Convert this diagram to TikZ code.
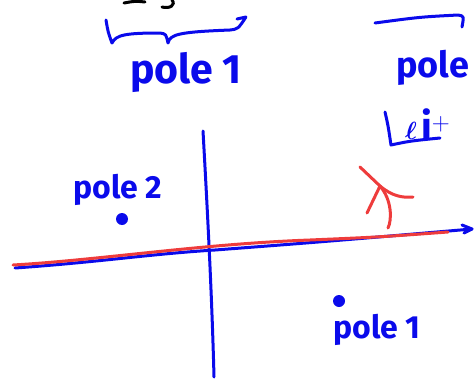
\documentclass[tikz,border=0pt]{standalone}
\usepackage{amsmath}
\usepackage{bm}
\usepackage{fontspec}
\setmainfont{Fira Sans}
\usepackage{tikz}
\definecolor{pen}{RGB}{10,10,235}
\definecolor{redpen}{RGB}{238,60,60}

\begin{document}
\begin{tikzpicture}[
        x=1pt, y=-1pt,
        ink/.style={pen, line width=3pt, line cap=round, line join=round},
        redink/.style={redpen, line width=3pt, line cap=round, line join=round},
        scrawl/.style={black, line width=3pt, line cap=round},
        big/.style={pen, inner sep=0pt, font=\fontsize{41}{41}\selectfont\bfseries},
        small/.style={pen, inner sep=0pt, font=\fontsize{32}{32}\selectfont\bfseries},
        dot/.style={circle, fill=pen, inner sep=0pt, minimum size=12pt}
    ]
        \useasboundingbox (0,0) rectangle (474,380);

        % cut-off writing at the top
        \draw[scrawl] (124,3) .. controls (135,1) .. (145,2);
        \draw[scrawl] (172,0) .. controls (176,5) and (170,9) .. (162,7);

        % brace over the upper pole 1
        \draw[ink] (106,20) .. controls (108,32) .. (112,43)
            .. controls (116,35) and (125,33) .. (160,33)
            .. controls (166,34) .. (168,43)
            .. controls (170,34) and (180,32) .. (230,30)
            .. controls (238,29) .. (246,17) -- (237,19);
        \node[big] (pole1top) at (186,72) {pole 1};

        % brace on the right
        \draw[ink] (375,23) .. controls (420,17) .. (458,15)
            .. controls (464,16) .. (462,27);
        \node[big, font=\fontsize{36}{36}\selectfont\bfseries, anchor=west] (poleright) at (396,68) {pole};
        \draw[ink] (385,112) .. controls (388,125) .. (391,145)
            .. controls (410,141) .. (440,138);
        \node[big, font=\fontsize{38}{38}\selectfont, anchor=west] (lit) at (405,124) {$\bm{\ell}\,\mathbf{i}^{\mathbf{+}}$};

        % axes
        \draw[ink] (203,131) .. controls (208,220) and (212,300) .. (214,377);
        \draw[ink] (15,268) .. controls (100,262) and (150,254) .. (215,250)
            .. controls (320,242) .. (472,229);
        \draw[ink] (462,225) -- (472,229) -- (464,233);
        \draw[redink] (13,265) .. controls (100,260) and (200,244) .. (310,240)
            .. controls (380,237) .. (448,232);

        % red arrow
        \draw[redink] (360,167) -- (380,186) .. controls (392,196) and (402,198) .. (413,197);
        \draw[redink] (367,213) -- (380,186) .. controls (392,200) and (392,220) .. (388,228);

        % poles
        \node[dot] (p2) at (122,219) {};
        \node[small] (pole2) at (118,190) {pole 2};
        \node[dot] (p1) at (339,301) {};
        \node[small] (pole1) at (377,330) {pole 1};

    \end{tikzpicture}
\end{document}
